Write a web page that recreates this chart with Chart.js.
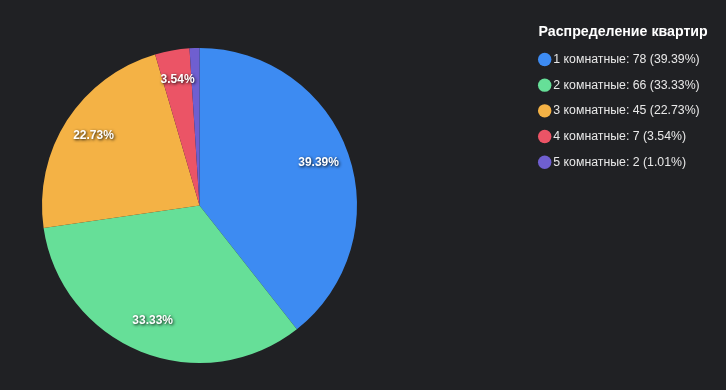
<!DOCTYPE html>
<html>
<head>
<meta charset="utf-8">
<script src="https://cdn.jsdelivr.net/npm/chart.js@4/dist/chart.umd.min.js"></script>
<style>
html,body{margin:0;padding:0;background:#202124;}
#wrap{position:relative;width:726px;height:390px;}
</style>
</head>
<body>
<div id="wrap"><canvas id="c"></canvas></div>
<script>
const categories = ['1 комнатные', '2 комнатные', '3 комнатные', '4 комнатные', '5 комнатные'];
const counts = [78, 66, 45, 7, 2];
const sliceColors = ['#3d8bf2', '#66df98', '#f4b245', '#eb5466', '#6f5fd0'];
const legendTitle = 'Распределение квартир';

const FONT = '"Liberation Sans", Arial, Helvetica, sans-serif';
const total = counts.reduce((a, b) => a + b, 0);
const pct = v => (v / total * 100).toFixed(2);

const layoutFix = {
  id: 'layoutFix',
  afterLayout(chart) {
    const R = 157.5, cx = 199.5, cy = 205.5;
    chart.chartArea = {left: cx - R, top: cy - R, right: cx + R, bottom: cy + R, width: 2 * R, height: 2 * R};
    const lg = chart.legend;
    const lw = lg.width, lh = lg.height;
    lg.left = 528.8; lg.right = lg.left + lw; lg.top = 39.9; lg.bottom = lg.top + lh;
    const tb = chart.titleBlock;
    const th = tb.height;
    tb.left = 538.5; tb.right = 726; tb.width = 187.5; tb.top = 32.3 - th / 2; tb.bottom = tb.top + th;
  }
};

const sliceLabels = {
  id: 'sliceLabels',
  afterDatasetsDraw(chart) {
    const ctx = chart.ctx;
    const meta = chart.getDatasetMeta(0);
    const data = chart.data.datasets[0].data;
    ctx.save();
    ctx.font = 'bold 12px ' + FONT;
    ctx.textAlign = 'center';
    ctx.textBaseline = 'middle';
    ctx.fillStyle = '#ffffff';
    ctx.shadowColor = 'rgba(0,0,0,0.9)';
    ctx.shadowBlur = 3;
    ctx.shadowOffsetX = 1;
    ctx.shadowOffsetY = 1;
    meta.data.forEach((arc, i) => {
      const share = data[i] / total * 100;
      if (share < 3) return;
      const p = arc.getProps(['x', 'y', 'startAngle', 'endAngle', 'outerRadius'], true);
      const mid = (p.startAngle + p.endAngle) / 2;
      const d = p.outerRadius * 0.8;
      ctx.fillText(pct(data[i]) + '%', p.x + Math.cos(mid) * d, p.y + Math.sin(mid) * d - 2);
    });
    ctx.restore();
  }
};

new Chart(document.getElementById('c'), {
  type: 'pie',
  data: {
    labels: categories,
    datasets: [{
      data: counts,
      backgroundColor: sliceColors,
      borderWidth: 0
    }]
  },
  options: {
    responsive: true,
    maintainAspectRatio: false,
    animation: false,
    plugins: {
      title: {
        display: true,
        text: legendTitle,
        align: 'start',
        color: '#ffffff',
        padding: 0,
        font: {family: FONT, size: 14.2, weight: 'bold'}
      },
      legend: {
        position: 'right',
        align: 'start',
        labels: {
          usePointStyle: true,
          pointStyle: 'circle',
          boxWidth: 5,
          boxHeight: 9.5,
          padding: 13.4,
          color: '#e8e8e8',
          font: {family: FONT, size: 12.3},
          generateLabels(chart) {
            const d = chart.data.datasets[0].data;
            return chart.data.labels.map((l, i) => ({
              text: l + ': ' + d[i] + ' (' + pct(d[i]) + '%)',
              fillStyle: sliceColors[i],
              strokeStyle: sliceColors[i],
              lineWidth: 0,
              pointStyle: 'circle',
              fontColor: '#e8e8e8',
              hidden: false,
              index: i
            }));
          }
        }
      },
      tooltip: {enabled: false}
    }
  },
  plugins: [layoutFix, sliceLabels]
});
</script>
</body>
</html>
